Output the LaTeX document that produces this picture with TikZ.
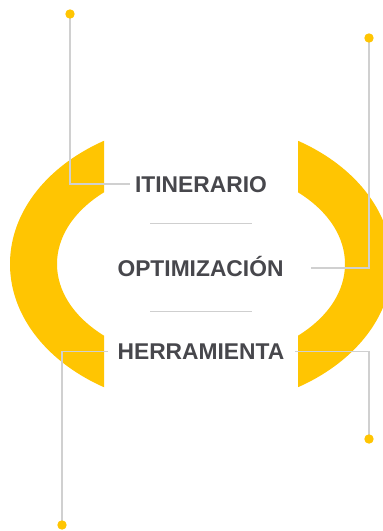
\documentclass[tikz,border=0pt]{standalone}
\usepackage{fontspec}
\setmainfont{Liberation Sans}
\definecolor{ringyellow}{HTML}{FFC502}
\definecolor{txtgray}{HTML}{47474C}
\definecolor{linegray}{HTML}{D0D0D0}
\definecolor{sepgray}{HTML}{CFCFCF}
\tikzset{
  lab/.style={anchor=base, text=txtgray, font=\fontsize{22.8}{27}\selectfont\bfseries, inner sep=4.5pt, text height=16.4pt, text depth=0pt},
  conn/.style={draw=linegray, line width=1.4pt},
  sepline/.style={draw=sepgray, line width=1.1pt},
  dotmark/.style={fill=ringyellow}
}
\begin{document}
\begin{tikzpicture}[x=1pt,y=-1pt]
\useasboundingbox (0,0) rectangle (383,531);
\fill[white] (0,0) rectangle (383,531);
% ring
\begin{scope}
  \clip (0,0) rectangle (104,531) (298,0) rectangle (383,531);
  \fill[ringyellow, even odd rule] (201,264) ellipse [x radius=191pt, y radius=143pt]
                                   (201,264) ellipse [x radius=144pt, y radius=97pt];
\end{scope}
% labels
\node[lab] (t1) at (201,192) {ITINERARIO};
\node[lab] (t2) at (200.5,276) {OPTIMIZACIÓN};
\node[lab] (t3) at (201,359.5) {HERRAMIENTA};
% separators
\coordinate (s1a) at (150,223.7); \coordinate (s1b) at (252,223.7);
\coordinate (s2a) at (150,311.3); \coordinate (s2b) at (252,311.3);
\draw[sepline] (s1a) -- (s1b);
\draw[sepline] (s2a) -- (s2b);
% dots
\coordinate (d1) at (70,14);
\coordinate (d2) at (369,38);
\coordinate (d3) at (62,525);
\coordinate (d4) at (369,439);
% connectors
\draw[conn] (d1) |- (t1.west);
\draw[conn] (d2) |- ([xshift=23pt]t2.east);
\draw[conn] ([xshift=-5pt]t3.west) -| (d3);
\draw[conn] ([xshift=6pt]t3.east) -| (d4);
\fill[dotmark] (d1) circle (4.7pt);
\fill[dotmark] (d2) circle (4.7pt);
\fill[dotmark] (d3) circle (4.7pt);
\fill[dotmark] (d4) circle (4.7pt);
\end{tikzpicture}
\end{document}
